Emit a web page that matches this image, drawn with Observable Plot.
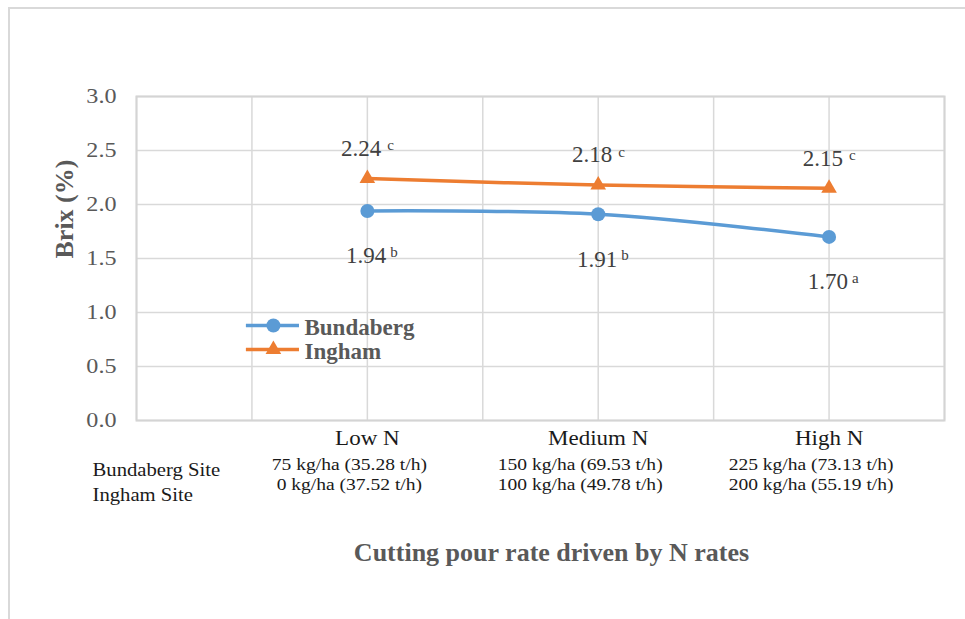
<!DOCTYPE html>
<html><head><meta charset="utf-8">
<script src="https://cdn.jsdelivr.net/npm/d3@7"></script>
<script src="https://cdn.jsdelivr.net/npm/@observablehq/plot@0.6"></script>
<style>
body{margin:0;background:#fff;}
#wrap{position:relative;width:965px;height:619px;overflow:hidden;}
#chart{position:absolute;left:0;top:0;}
#chart text{font-family:"Liberation Serif","Times New Roman",serif;}
#border{position:absolute;left:8px;top:7px;right:-10px;bottom:-10px;border-left:2px solid #d9d9d9;border-top:2px solid #d9d9d9;pointer-events:none;z-index:2;}
</style></head>
<body><div id="wrap"><div id="chart"></div><div id="border"></div></div>
<script>
const categories = ["Low N", "Medium N", "High N"];
const bundaberg = [1.94, 1.91, 1.70];
const ingham = [2.24, 2.18, 2.15];
const bundabergLetters = ["b", "b", "a"];
const inghamLetters = ["c", "c", "c"];
const bundabergRates = ["75 kg/ha (35.28 t/h)", "150 kg/ha (69.53 t/h)", "225 kg/ha (73.13 t/h)"];
const inghamRates = ["0 kg/ha (37.52 t/h)", "100 kg/ha (49.78 t/h)", "200 kg/ha (55.19 t/h)"];
const siteLabels = ["Bundaberg Site", "Ingham Site"];
const seriesNames = ["Bundaberg", "Ingham"];
const seriesColors = ["#5B9BD5", "#ED7D31"];
const yTicks = [0, 0.5, 1, 1.5, 2, 2.5, 3];
const xGrid = [0, 0.5, 1, 1.5, 2, 2.5, 3, 3.5];
const xTitle = "Cutting pour rate driven by N rates";
const yTitle = "Brix (%)";

const serif = "Liberation Serif, serif";
const B = categories.map((c, i) => ({series: "Bundaberg", x: i + 1, value: bundaberg[i], letter: bundabergLetters[i]}));
const I = categories.map((c, i) => ({series: "Ingham", x: i + 1, value: ingham[i], letter: inghamLetters[i]}));
const rows = B.concat(I);
// legend rows placed in data coordinates inside the plot
const legend = [
  {series: seriesNames[0], y: 0.88, x1: 0.476, x2: 0.706, xm: 0.593},
  {series: seriesNames[1], y: 0.657, x1: 0.476, x2: 0.706, xm: 0.593}
];

const svg = Plot.plot({
  width: 965, height: 619,
  marginTop: 96, marginLeft: 136, marginRight: 21, marginBottom: 199,
  x: {domain: [0, 3.5], axis: null},
  y: {domain: [0, 3], axis: null},
  color: {domain: seriesNames, range: seriesColors},
  style: {fontFamily: serif, fontSize: "19px", color: "#595959", background: "transparent", overflow: "visible"},
  marks: [
    Plot.ruleX(xGrid, {stroke: "#d9d9d9", strokeWidth: 1.5}),
    Plot.ruleY(yTicks, {stroke: "#d9d9d9", strokeWidth: 1.5}),
    Plot.frame({stroke: "#d4d4d4", strokeWidth: 2}),
    Plot.line(rows, {x: "x", y: "value", z: "series", stroke: "series", curve: "catmull-rom", strokeWidth: 3.5}),
    Plot.dot(B, {x: "x", y: "value", r: 7, fill: "series"}),
    Plot.dot(I, {x: "x", y: "value", r: 5.8, symbol: "triangle", fill: "series"}),
    // data labels
    Plot.text(I, {x: "x", y: "value", text: d => d.value.toFixed(2), textAnchor: "end", dx: 14, dy: -30, fontSize: 23, fontFamily: serif, fill: "#404040"}),
    Plot.text(I, {x: "x", y: "value", text: "letter", textAnchor: "start", dx: 20, dy: -33, fontSize: 15, fontFamily: serif, fill: "#404040"}),
    Plot.text(B, {x: "x", y: "value", text: d => d.value.toFixed(2), textAnchor: "end", dx: 19, dy: 45, fontSize: 23, fontFamily: serif, fill: "#404040"}),
    Plot.text(B, {x: "x", y: "value", text: "letter", textAnchor: "start", dx: 23, dy: 41, fontSize: 15, fontFamily: serif, fill: "#404040"}),
    // legend
    Plot.ruleY(legend, {y: "y", x1: "x1", x2: "x2", stroke: "series", strokeWidth: 3.5}),
    Plot.dot(legend.slice(0, 1), {x: "xm", y: "y", r: 7, fill: "series"}),
    Plot.dot(legend.slice(1), {x: "xm", y: "y", r: 5.8, symbol: "triangle", fill: "series"}),
    Plot.text(legend, {x: "x2", y: "y", text: "series", textAnchor: "start", dx: 5, dy: 2, fontSize: 23, fontFamily: serif, fontWeight: "bold", fill: "#595959"}),
    // y tick labels
    Plot.text(yTicks, {x: 0, y: d => d, text: d => d.toFixed(1), textAnchor: "end", dx: -20, fontSize: 21, fontFamily: serif, fill: "#595959", ariaDescription: "stretch"}),
    // category labels
    Plot.text(categories, {x: (d, i) => i + 1, frameAnchor: "bottom", dy: 24, text: d => d, fill: "#1a1a1a", fontSize: 20, fontFamily: serif, ariaDescription: "stretch"}),
    Plot.text(bundabergRates, {x: (d, i) => i + 1, frameAnchor: "bottom", dy: 49, dx: -18, text: d => d, fill: "#1a1a1a", fontSize: 17, fontFamily: serif, ariaDescription: "stretch"}),
    Plot.text(inghamRates, {x: (d, i) => i + 1, frameAnchor: "bottom", dy: 69, dx: -18, text: d => d, fill: "#1a1a1a", fontSize: 17, fontFamily: serif, ariaDescription: "stretch"}),
    Plot.text([siteLabels[0]], {frameAnchor: "bottom-left", textAnchor: "start", dx: -44, dy: 55, fill: "#1a1a1a", fontSize: 18, fontFamily: serif, ariaDescription: "stretch"}),
    Plot.text([siteLabels[1]], {frameAnchor: "bottom-left", textAnchor: "start", dx: -44, dy: 80, fill: "#1a1a1a", fontSize: 18, fontFamily: serif, ariaDescription: "stretch"}),
    // titles
    Plot.text([xTitle], {frameAnchor: "bottom", dx: 11, dy: 140, fontSize: 26, fontFamily: serif, fontWeight: "bold", fill: "#595959"}),
    Plot.text([yTitle], {frameAnchor: "left", rotate: -90, dx: -72, fontSize: 26, fontFamily: serif, fontWeight: "bold", fill: "#595959"})
  ]
});
svg.querySelectorAll('g[aria-description="stretch"] text').forEach(t => {
  const tr = t.getAttribute("transform") || "";
  t.setAttribute("transform", tr + " scale(1.15,1)");
});
document.getElementById("chart").appendChild(svg);
</script>
</body></html>
